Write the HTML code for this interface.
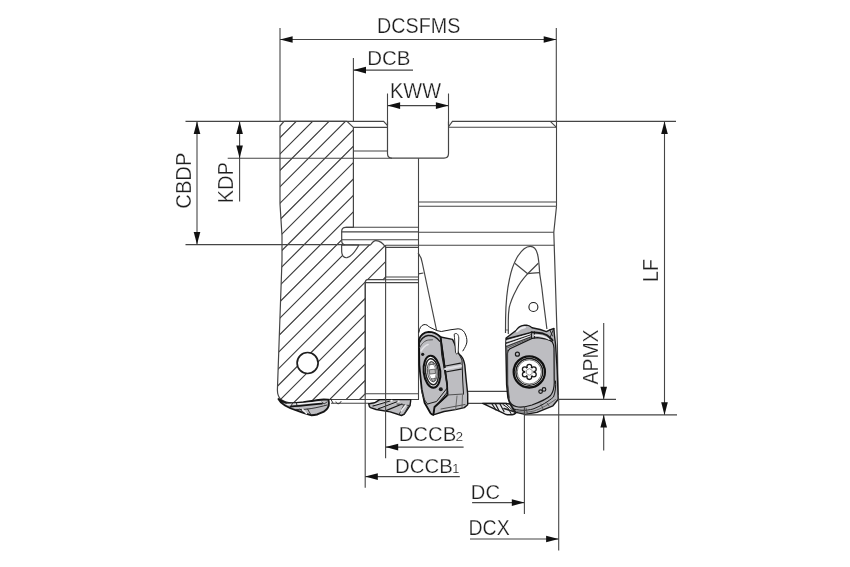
<!DOCTYPE html>
<html><head><meta charset="utf-8"><style>
html,body{margin:0;padding:0;background:#fff;}
svg{display:block;will-change:transform;}
text{font-family:"Liberation Sans",sans-serif;fill:#1e1e1e;stroke:#fff;stroke-width:0.25px;}
</style></head><body>
<svg width="850" height="567" viewBox="0 0 850 567">
<rect width="850" height="567" fill="#fff"/>
<clipPath id="hc"><path d="M280,126 L284,121.4 L347,121.4 L353.4,127.4 L353.4,227.3 L345.7,227.3 Q341.7,227.3 341.7,231.3 L341.7,240.8 Q341.7,244.8 345.7,244.8 L370.7,244.8 C372.5,242 374,240.6 375.9,240.6 C379,240.6 383,243 385.6,247.4 L385.6,277 L383.2,279.7 L367.6,279.7 Q365.3,279.7 365.3,282.6 L365.3,393.8 L359.5,399.5 L329.3,399.5 L324.4,399.5 C318,400 312,401.3 311.7,401.3 C305,402.5 297,403.6 292.6,403.4 C287,402.5 283,401 280.6,399.2 C278.5,397 277.4,394 277.4,390 L282,260 L282,236 L280,204 Z"/></clipPath>
<path d="M270,82.0 L400,-48.0 M270,98.4 L400,-31.6 M270,114.8 L400,-15.2 M270,131.2 L400,1.2 M270,147.6 L400,17.6 M270,164.0 L400,34.0 M270,180.4 L400,50.4 M270,196.8 L400,66.8 M270,213.2 L400,83.2 M270,229.6 L400,99.6 M270,246.0 L400,116.0 M270,262.4 L400,132.4 M270,278.8 L400,148.8 M270,295.2 L400,165.2 M270,311.6 L400,181.6 M270,328.0 L400,198.0 M270,344.4 L400,214.4 M270,360.8 L400,230.8 M270,377.2 L400,247.2 M270,393.6 L400,263.6 M270,410.0 L400,280.0 M270,426.4 L400,296.4 M270,442.8 L400,312.8 M270,459.2 L400,329.2 M270,475.6 L400,345.6 M270,492.0 L400,362.0 M270,508.4 L400,378.4 M270,524.8 L400,394.8 M270,541.2 L400,411.2 M270,557.6 L400,427.6" stroke="#3a3a3a" stroke-width="1.15" clip-path="url(#hc)" fill="none"/>
<path d="M280,126 L284,121.4 L347,121.4 L353.4,127.4 L353.4,227.3 L345.7,227.3 Q341.7,227.3 341.7,231.3 L341.7,240.8 Q341.7,244.8 345.7,244.8 L370.7,244.8 C372.5,242 374,240.6 375.9,240.6 C379,240.6 383,243 385.6,247.4 L385.6,277 L383.2,279.7 L367.6,279.7 Q365.3,279.7 365.3,282.6 L365.3,393.8 L359.5,399.5 L329.3,399.5 L324.4,399.5 C318,400 312,401.3 311.7,401.3 C305,402.5 297,403.6 292.6,403.4 C287,402.5 283,401 280.6,399.2 C278.5,397 277.4,394 277.4,390 L282,260 L282,236 L280,204 Z" fill="none" stroke="#454545" stroke-width="1.2" stroke-linejoin="round" />
<path d="M341.6,244.8 L341.7,252 C342,256 344,258 347,257.7 C351,257 356,250 358.8,245.2 Z" fill="#fff" stroke="#454545" stroke-width="1.2" stroke-linejoin="round" />
<circle cx="307.6" cy="363" r="10.5" fill="#fff" stroke="#1e1e1e" stroke-width="1.7"/>
<line x1="353.4" y1="127.4" x2="387.5" y2="127.4" stroke="#454545" stroke-width="1.1"/>
<line x1="353.4" y1="151" x2="387.5" y2="151" stroke="#454545" stroke-width="1.1"/>
<line x1="383.7" y1="121.4" x2="387.5" y2="125.6" stroke="#454545" stroke-width="1.1"/>
<path d="M387.5,121.4 L387.5,153.6 Q387.5,158.2 392,158.2 L444,158.2 Q448.5,158.2 448.5,153.6 L448.5,121.4" fill="none" stroke="#454545" stroke-width="1.2" stroke-linejoin="round" />
<line x1="448.5" y1="126.8" x2="452.4" y2="121.4" stroke="#454545" stroke-width="1.1"/>
<line x1="448.5" y1="127.3" x2="556.5" y2="127.3" stroke="#454545" stroke-width="1.1"/>
<line x1="550.3" y1="121.4" x2="556.5" y2="127.3" stroke="#454545" stroke-width="1.1"/>
<line x1="556.5" y1="121.4" x2="556.5" y2="206.2" stroke="#454545" stroke-width="1.1"/>
<line x1="418.5" y1="158.2" x2="418.5" y2="399.6" stroke="#454545" stroke-width="1.1"/>
<line x1="418" y1="202" x2="556.5" y2="202" stroke="#454545" stroke-width="1.1"/>
<line x1="418" y1="206.2" x2="556.5" y2="206.2" stroke="#454545" stroke-width="1.1"/>
<path d="M556.5,206.2 L553.8,232.3 L557.4,345 L558,395" fill="none" stroke="#454545" stroke-width="1.2" stroke-linejoin="round" />
<line x1="418" y1="232.3" x2="553.8" y2="232.3" stroke="#454545" stroke-width="1.1"/>
<line x1="385.6" y1="245.2" x2="554.3" y2="245.2" stroke="#454545" stroke-width="1.1"/>
<line x1="345.7" y1="227.3" x2="418" y2="227.3" stroke="#454545" stroke-width="1.1"/>
<line x1="341.7" y1="231.9" x2="418" y2="231.9" stroke="#454545" stroke-width="1.1"/>
<line x1="341.7" y1="239.8" x2="418" y2="239.8" stroke="#454545" stroke-width="1.1"/>
<line x1="385.6" y1="247.4" x2="418" y2="247.4" stroke="#454545" stroke-width="1.1"/>
<line x1="385.6" y1="277" x2="418" y2="277" stroke="#454545" stroke-width="1.1"/>
<line x1="383.2" y1="279.7" x2="418" y2="279.7" stroke="#454545" stroke-width="1.1"/>
<line x1="365.3" y1="282.6" x2="418" y2="282.6" stroke="#454545" stroke-width="1.1"/>
<line x1="365.3" y1="393.8" x2="419" y2="393.8" stroke="#454545" stroke-width="1.1"/>
<line x1="329.3" y1="399.5" x2="419" y2="399.5" stroke="#454545" stroke-width="1.1"/>
<line x1="331" y1="403.2" x2="369" y2="403.2" stroke="#454545" stroke-width="1.1"/>
<line x1="467" y1="391.4" x2="507" y2="391.4" stroke="#454545" stroke-width="1.1"/>
<line x1="467" y1="403.4" x2="507" y2="403.4" stroke="#454545" stroke-width="1.1"/>
<path d="M418,253.2 C420.5,256 422,259.5 422.3,263 L436.5,330" fill="none" stroke="#454545" stroke-width="1.2" stroke-linejoin="round" />
<path d="M418.5,273.8 L423.4,273" fill="none" stroke="#454545" stroke-width="1.2" stroke-linejoin="round" />
<path d="M505.5,333 L505.6,318 C505.8,305 507,290 509.5,279 C511,271 514,263 517,257.5 C521,251 525,246.4 530.2,246.4 C534,246.4 536.5,250 537.5,254 C538.6,258 539.2,265 539.7,273.7 L541.8,287.5 L543.4,301.3 L546.9,329" fill="none" stroke="#454545" stroke-width="1.2" stroke-linejoin="round" />
<path d="M514.8,263.2 L527.7,273.7 L538.3,263.2" fill="none" stroke="#454545" stroke-width="1.2" stroke-linejoin="round" />
<path d="M527.7,273.7 C531,273.3 535,273 539.7,272.7" fill="none" stroke="#454545" stroke-width="1.2" stroke-linejoin="round" />
<path d="M527.7,273.7 C522,280 518.5,285 516.2,290 C513,296 510.5,302 509.2,307.6 C508.5,312 508.3,317 508.3,321 L508.3,334" fill="none" stroke="#454545" stroke-width="1.2" stroke-linejoin="round" />
<path d="M505.5,330 L508.3,330" fill="none" stroke="#454545" stroke-width="0.8" stroke-linejoin="round" />
<circle cx="533.4" cy="307" r="4.5" fill="none" stroke="#1e1e1e" stroke-width="1.1"/>
<path d="M437,333.5 L441.3,331.5 L451,329.7 L458.1,328.8 C461,329 463,330 464.5,332.5 C466.5,336 467,339 466.9,342 C466.5,345 465,347.5 462.9,350.9 L459,354 L452.5,339.4 L440.5,337 Z" fill="#fff" stroke="#1a1a1a" stroke-width="0" stroke-linejoin="round" stroke-linecap="round" stroke="none"/>
<path d="M418.9,332.3 C419.5,328 421,325.3 424,324.6 C426.5,324.3 428,325.5 429.4,327.1 L436.9,330.6 L441.3,331.5 L451,329.7 L458.1,328.8 C461,329 463,330 464.5,332.5 C466.5,336 467,339 466.9,342 C466.5,345 465,347.5 462.9,350.9" fill="none" stroke="#1a1a1a" stroke-width="1.0" stroke-linejoin="round" stroke-linecap="round" />
<path d="M440.5,337 L452.5,339.4 C455,344 457,350 459,354 C462,356 464,360 464.8,365 L466.2,380 L467.7,394 L467.7,404.7 L464.3,407.6 L455.6,409.6 L444,411.5 L433.3,414.9 L434.5,407 L447.5,395 L447,384 Z" fill="#bdbdc1" stroke="#151515" stroke-width="1.4" stroke-linejoin="round" stroke-linecap="round" />
<path d="M459,354 L462,360 L462.7,380 L463.5,394" fill="none" stroke="#1a1a1a" stroke-width="1.0" stroke-linejoin="round" stroke-linecap="round" />
<path d="M454.5,334 C456.5,332.5 458.5,334 458.8,338 L458.2,352 C457.8,354.5 455.8,354.5 455.5,352 L454.5,338 Z" fill="#fff" stroke="#1a1a1a" stroke-width="0.9" stroke-linejoin="round" stroke-linecap="round" />
<path d="M419,339.5 C420.5,335 424,332.3 428.5,331.8 C433,331.8 438,334.5 440.5,337 L447,384 L447.5,395 L434.5,407 L433.3,414.9 C431.5,414.5 430.4,413 430.4,413 L424.6,402.8 L421.7,389.2 L419.3,365 Z" fill="#bdbdc1" stroke="#111" stroke-width="1.8" stroke-linejoin="round" stroke-linecap="round" />
<path d="M419.3,342.9 C421.5,338 424.5,336 428,335.5 C432,335.3 436,336.5 439.6,341.2" fill="none" stroke="#1a1a1a" stroke-width="1.3" stroke-linejoin="round" stroke-linecap="round" />
<path d="M419.8,347.5 C422,343 425,340.5 428.5,340 L432.5,339.8" fill="none" stroke="#555" stroke-width="1.0" stroke-linejoin="round" stroke-linecap="round" />
<path d="M421,351 C423,347.5 425,345.5 428,344.5" fill="none" stroke="#e2e2e6" stroke-width="1.6" stroke-linejoin="round" stroke-linecap="round" />
<path d="M440.5,337 L441.8,355 L446.3,380 L447,384" fill="none" stroke="#1a1a1a" stroke-width="1.2" stroke-linejoin="round" stroke-linecap="round" />
<path d="M444.2,366.2 L460.5,363.1" fill="none" stroke="#1a1a1a" stroke-width="1.1" stroke-linejoin="round" stroke-linecap="round" />
<path d="M445.5,372 L461.3,369.1" fill="none" stroke="#1a1a1a" stroke-width="1.1" stroke-linejoin="round" stroke-linecap="round" />
<path d="M445,369 L461,366" fill="none" stroke="#e0e0e4" stroke-width="2.0" stroke-linejoin="round" stroke-linecap="round" />
<path d="M447.2,388 L436.5,401.5 L427.5,404 M447.4,392 L437.5,404" fill="none" stroke="#1a1a1a" stroke-width="1.0" stroke-linejoin="round" stroke-linecap="round" />
<path d="M447.5,395 L463.5,394 M441,409 L465,404.5" fill="none" stroke="#444" stroke-width="0.9" stroke-linejoin="round" stroke-linecap="round" />
<path d="M455.6,409.6 L457,396 M462,408 L462.5,395" fill="none" stroke="#555" stroke-width="0.8" stroke-linejoin="round" stroke-linecap="round" />
<path d="M421.5,389 C422,395 424,400 427.5,404" fill="none" stroke="#333" stroke-width="1.0" stroke-linejoin="round" stroke-linecap="round" />
<g transform="rotate(-6.5 432 371.7)"><ellipse cx="432" cy="371.7" rx="8.3" ry="16.0" fill="#fff" stroke="#111" stroke-width="2.1"/><ellipse cx="432" cy="371.7" rx="6.5" ry="13.1" fill="none" stroke="#222" stroke-width="1.5"/><ellipse cx="432.3" cy="371.7" rx="4.9" ry="10.2" fill="#e6e6ea" stroke="#444" stroke-width="0.9"/><ellipse cx="432.4" cy="371.7" rx="3.6" ry="8" fill="#fff" stroke="#666" stroke-width="0.7"/><path d="M429.8,364.5 L432.4,361.5 L435,364.5 Z M429.5,369.5 L435.3,369.5 L435.3,373.8 L429.5,373.8 Z M429.8,378.8 L432.4,381.8 L435,378.8 Z" fill="#bbb" stroke="#444" stroke-width="0.7"/></g>
<circle cx="422.7" cy="354.3" r="1.6" fill="#1a1a1a"/>
<circle cx="440.8" cy="389.3" r="2" fill="#1a1a1a"/>
<path d="M506.1,338 L516.3,330.2 C517.5,328.5 518.2,327.6 519,327.1 C520.5,326 522.5,325.4 524.5,325.2 L526.6,325.1 C528.3,325.4 529.8,326 530.7,326.8 L532,327.8 L540.2,329.5 L546.4,331.6 L549.8,329.8 L553.9,328.5 L554.5,335.6 L555.6,345 L557.2,370 L558.2,399.2 L552.9,405.8 L537,412.4 L525.1,414.4 L515.9,412.4 L509.9,403.8 L507.9,397.9 L506.6,384.7 L505.8,345 Z" fill="#b4b4b8" stroke="#1a1a1a" stroke-width="1.4" stroke-linejoin="round" stroke-linecap="round" />
<path d="M507.2,354 C507.5,352 508,350 510,348.8 L532,338.4 L537.5,337.7 L546.4,339.1 C549,339.7 551,340.5 552.4,342.2 C553.5,344 553.9,346 554,348 L554.2,380 C554.6,386 553.8,391 550.5,395.5 C547,399 540,402 532,405 C526,407 521,407.8 516,406.5 C512,405.5 510,403 509,400 L507.2,384 Z" fill="#bdbdc1" stroke="#1a1a1a" stroke-width="1.2" stroke-linejoin="round" stroke-linecap="round" />
<path d="M506.60,339.04 L531.30,332.51" fill="none" stroke="#1a1a1a" stroke-width="1.7" stroke-linejoin="round" stroke-linecap="round" />
<path d="M506.60,341.20 L531.30,333.75" fill="none" stroke="#f0f0f2" stroke-width="1.3" stroke-linejoin="round" stroke-linecap="round" />
<path d="M506.60,343.04 L531.30,334.80" fill="none" stroke="#222" stroke-width="1.1" stroke-linejoin="round" stroke-linecap="round" />
<path d="M506.60,344.76 L531.30,335.80" fill="none" stroke="#eaeaec" stroke-width="1.2" stroke-linejoin="round" stroke-linecap="round" />
<path d="M506.60,346.49 L531.30,336.79" fill="none" stroke="#333" stroke-width="1.1" stroke-linejoin="round" stroke-linecap="round" />
<path d="M506.60,348.22 L531.30,337.78" fill="none" stroke="#555" stroke-width="0.9" stroke-linejoin="round" stroke-linecap="round" />
<path d="M517,331.5 C519,329 522,327.6 525,327.2" fill="none" stroke="#ededf0" stroke-width="2.0" stroke-linejoin="round" stroke-linecap="round" />
<path d="M531.3,332.2 L531.6,338.4 M534.5,331.8 L534.6,338" fill="none" stroke="#1a1a1a" stroke-width="1.0" stroke-linejoin="round" stroke-linecap="round" />
<path d="M534.6,335.2 C540,335.3 545,336.5 549,339.2" fill="none" stroke="#f0f0f2" stroke-width="1.5" stroke-linejoin="round" stroke-linecap="round" />
<path d="M531.6,332.2 C536,332.4 540,333 543,333.6 C546,334.5 548.5,336 549.8,337.7 C551,338.8 552,339.6 552.5,340.4" fill="none" stroke="#1a1a1a" stroke-width="2.0" stroke-linejoin="round" stroke-linecap="round" />
<path d="M549.8,329.8 L552.5,336 M553.9,328.5 L550,337.5" fill="none" stroke="#1a1a1a" stroke-width="0.9" stroke-linejoin="round" stroke-linecap="round" />
<path d="M507.6,350 L507.8,384 L509.2,398" fill="none" stroke="#444" stroke-width="0.9" stroke-linejoin="round" stroke-linecap="round" />
<path d="M512,408.5 C518,410.5 526,411 533,409 C541,406 549,401 553.5,397 C555.5,392 556,386 555.5,381" fill="none" stroke="#1a1a1a" stroke-width="1.0" stroke-linejoin="round" stroke-linecap="round" />
<path d="M514,410.6 C520,412.5 527,412.8 534,411 C542,408.5 550,403.5 555.5,399.5" fill="none" stroke="#555" stroke-width="0.8" stroke-linejoin="round" stroke-linecap="round" />
<path d="M526,408 L527.5,414 M547,403 L549,405.8 M541,404 L543,409" fill="none" stroke="#444" stroke-width="0.8" stroke-linejoin="round" stroke-linecap="round" />
<circle cx="529.3" cy="371.9" r="15.6" fill="#fff" stroke="#111" stroke-width="2.3"/>
<circle cx="529.3" cy="371.9" r="13.4" fill="none" stroke="#1a1a1a" stroke-width="1.4"/>
<circle cx="529.3" cy="371.9" r="12.1" fill="none" stroke="#555" stroke-width="0.8"/>
<circle cx="529.30" cy="366.70" r="2.4" fill="#fff" stroke="#1a1a1a" stroke-width="1.3"/><circle cx="524.80" cy="369.30" r="2.4" fill="#fff" stroke="#1a1a1a" stroke-width="1.3"/><circle cx="524.80" cy="374.50" r="2.4" fill="#fff" stroke="#1a1a1a" stroke-width="1.3"/><circle cx="529.30" cy="377.10" r="2.4" fill="#fff" stroke="#1a1a1a" stroke-width="1.3"/><circle cx="533.80" cy="374.50" r="2.4" fill="#fff" stroke="#1a1a1a" stroke-width="1.3"/><circle cx="533.80" cy="369.30" r="2.4" fill="#fff" stroke="#1a1a1a" stroke-width="1.3"/>
<circle cx="529.3" cy="371.9" r="4.1" fill="#fff" stroke="none"/>
<polygon points="532.16,370.25 529.30,368.60 526.44,370.25 526.44,373.55 529.30,375.20 532.16,373.55" fill="#fff" stroke="#666" stroke-width="0.7"/>
<circle cx="517.4" cy="354.2" r="2" fill="none" stroke="#1a1a1a" stroke-width="1.2"/>
<circle cx="540.6" cy="391.6" r="1.8" fill="none" stroke="#1a1a1a" stroke-width="1.2"/>
<circle cx="544" cy="389.4" r="1.8" fill="none" stroke="#1a1a1a" stroke-width="1.2"/>
<path d="M278.5,399 C280,402 282,403.8 285,405.5 C289.6,408.3 294,409.8 298.5,411.1 C301,412 304,413 306.7,413.8 C308.5,414.5 310,415.2 311.5,415.2 C314,415.2 317,414.5 317,414.5 C320,413.5 322,412.5 323.8,411.7 C326,410 327.5,408.5 327.9,407.6 C328.7,406 329,404.5 328.9,403 L328.5,399.6 L323.8,399.5 C318,400 313.5,400.8 313.5,400.8 C308,401.5 303.3,402.2 303.3,402.2 C299,402.7 295,403.2 293,403.2 C290,403.2 288,403.1 286.2,402.9 C284,402.3 282.5,401.5 281.5,400.8 Z" fill="#bdbdc1" stroke="#151515" stroke-width="1.9" stroke-linejoin="round" stroke-linecap="round" />
<path d="M287,404.3 C297,404.3 310,402.8 322,401.8" fill="none" stroke="#f2f2f4" stroke-width="1.3" stroke-linejoin="round" stroke-linecap="round" />
<path d="M290.5,406.6 C300,406 312,404.6 322,403.6" fill="none" stroke="#151515" stroke-width="1.7" stroke-linejoin="round" stroke-linecap="round" />
<path d="M296,409.5 C306,410 316,408 327,405" fill="none" stroke="#333" stroke-width="1.0" stroke-linejoin="round" stroke-linecap="round" />
<path d="M302.5,409.3 L306.5,413.4" fill="none" stroke="#f2f2f4" stroke-width="1.4" stroke-linejoin="round" stroke-linecap="round" />
<path d="M300,409 L303.5,413 M307.5,409 L310.5,414" fill="none" stroke="#222" stroke-width="0.9" stroke-linejoin="round" stroke-linecap="round" />
<path d="M292.5,403.3 L290.8,406.5 M296.5,403 L297,406" fill="none" stroke="#222" stroke-width="0.9" stroke-linejoin="round" stroke-linecap="round" />
<path d="M322,401.8 L324,404 L327,402" fill="none" stroke="#333" stroke-width="0.9" stroke-linejoin="round" stroke-linecap="round" />
<path d="M368.7,403.8 C369,406 369.8,407.2 370.5,407.7 L376.1,409.5 L390.2,411.9 L401.5,415.5 L404.3,414.1 L410,405.6 L410.7,400.6 L410.7,399.6 L379.6,399.6 L374.7,402.8 Z" fill="#bdbdc1" stroke="#151515" stroke-width="1.4" stroke-linejoin="round" stroke-linecap="round" />
<path d="M375,404.5 L392,400.5 M381,407.5 L399,401.3" fill="none" stroke="#f0f0f2" stroke-width="1.5" stroke-linejoin="round" stroke-linecap="round" />
<path d="M373,406 L390,401 M378.5,408.8 L397,401.8 M386,410.6 L402,404" fill="none" stroke="#151515" stroke-width="1.2" stroke-linejoin="round" stroke-linecap="round" />
<path d="M397,404 L410,405.6 M399,414.5 L404,405 M404,414 L409,405" fill="none" stroke="#333" stroke-width="0.9" stroke-linejoin="round" stroke-linecap="round" />
<path d="M401,411 L406,405" fill="none" stroke="#f0f0f2" stroke-width="1.3" stroke-linejoin="round" stroke-linecap="round" />
<path d="M331,399.5 L333,403 M336,402 C337,404.5 339.5,404.5 341,401.5" fill="none" stroke="#1a1a1a" stroke-width="0.9" stroke-linejoin="round" stroke-linecap="round" />
<path d="M482.7,403.4 L503.3,413.1 C505,414.2 506.5,414.8 507.4,414.8 L512.1,414.8 C513.7,414.5 514.8,413.8 515.6,413.1 L510,404 L505.6,403.4 Z" fill="#ececee" stroke="#1a1a1a" stroke-width="1.5" stroke-linejoin="round" stroke-linecap="round" />
<path d="M492,404 L496,410 M495.5,404 L499,410.8 M500,404 L504,411.5" fill="none" stroke="#1a1a1a" stroke-width="1.2" stroke-linejoin="round" stroke-linecap="round" />
<path d="M503,404.5 L508,408 L511.5,414.5 M506,404 L513,410.5" fill="none" stroke="#1a1a1a" stroke-width="1.0" stroke-linejoin="round" stroke-linecap="round" />
<path d="M504,408.5 L515,412" fill="none" stroke="#222" stroke-width="1.6" stroke-linejoin="round" stroke-linecap="round" />
<line x1="280" y1="28" x2="280" y2="121.4" stroke="#454545" stroke-width="1.1"/>
<line x1="556.3" y1="28" x2="556.3" y2="121.4" stroke="#454545" stroke-width="1.1"/>
<line x1="280" y1="39.5" x2="556.3" y2="39.5" stroke="#454545" stroke-width="1.1"/>
<polygon points="280.00,39.50 292.60,36.20 292.60,42.80" fill="#111"/>
<polygon points="556.30,39.50 543.70,36.20 543.70,42.80" fill="#111"/>
<text x="377.07" y="33.21" font-size="21.69"><tspan textLength="83.24" lengthAdjust="spacingAndGlyphs">DCSFMS</tspan></text>
<line x1="353.4" y1="58" x2="353.4" y2="121.4" stroke="#454545" stroke-width="1.1"/>
<line x1="353.4" y1="70.1" x2="413" y2="70.1" stroke="#454545" stroke-width="1.1"/>
<polygon points="353.40,70.10 366.00,66.80 366.00,73.40" fill="#111"/>
<text x="367.21" y="64.51" font-size="21.11"><tspan textLength="43.28" lengthAdjust="spacingAndGlyphs">DCB</tspan></text>
<line x1="387.5" y1="93.5" x2="387.5" y2="125" stroke="#454545" stroke-width="1.1"/>
<line x1="448.5" y1="93.5" x2="448.5" y2="125" stroke="#454545" stroke-width="1.1"/>
<line x1="387.5" y1="105.6" x2="448.5" y2="105.6" stroke="#454545" stroke-width="1.1"/>
<polygon points="387.50,105.60 400.10,102.30 400.10,108.90" fill="#111"/>
<polygon points="448.50,105.60 435.90,102.30 435.90,108.90" fill="#111"/>
<text x="390.05" y="97.71" font-size="21.40"><tspan textLength="51.03" lengthAdjust="spacingAndGlyphs">KWW</tspan></text>
<line x1="185.5" y1="121.4" x2="384" y2="121.4" stroke="#454545" stroke-width="1.1"/>
<line x1="452" y1="121.4" x2="676" y2="121.4" stroke="#454545" stroke-width="1.1"/>
<line x1="185.5" y1="244.6" x2="345" y2="244.6" stroke="#454545" stroke-width="1.1"/>
<line x1="197" y1="121.4" x2="197" y2="244.6" stroke="#454545" stroke-width="1.1"/>
<polygon points="197.00,121.40 193.70,134.00 200.30,134.00" fill="#111"/>
<polygon points="197.00,244.60 193.70,232.00 200.30,232.00" fill="#111"/>
<text x="190.91" y="208.63" font-size="21.83" transform="rotate(-90 190.91 208.63)" textLength="56.01" lengthAdjust="spacingAndGlyphs">CBDP</text>
<line x1="227.7" y1="158.2" x2="392" y2="158.2" stroke="#454545" stroke-width="1.1"/>
<line x1="239.6" y1="121.4" x2="239.6" y2="201.6" stroke="#454545" stroke-width="1.1"/>
<polygon points="239.60,121.40 236.30,134.00 242.90,134.00" fill="#111"/>
<polygon points="239.60,158.20 236.30,145.60 242.90,145.60" fill="#111"/>
<text x="233.11" y="203.35" font-size="21.25" transform="rotate(-90 233.11 203.35)" textLength="41.22" lengthAdjust="spacingAndGlyphs">KDP</text>
<line x1="664.5" y1="121.4" x2="664.5" y2="414.9" stroke="#454545" stroke-width="1.1"/>
<polygon points="664.50,121.40 661.20,134.00 667.80,134.00" fill="#111"/>
<polygon points="664.50,414.90 661.20,402.30 667.80,402.30" fill="#111"/>
<line x1="524.5" y1="414.9" x2="677" y2="414.9" stroke="#454545" stroke-width="1.1"/>
<text x="658.11" y="281.92" font-size="21.54" transform="rotate(-90 658.11 281.92)" textLength="22.92" lengthAdjust="spacingAndGlyphs">LF</text>
<line x1="603.7" y1="323" x2="603.7" y2="399.4" stroke="#454545" stroke-width="1.1"/>
<polygon points="603.70,399.40 600.40,386.80 607.00,386.80" fill="#111"/>
<line x1="557.6" y1="399.4" x2="616" y2="399.4" stroke="#454545" stroke-width="1.1"/>
<line x1="603.7" y1="414.9" x2="603.7" y2="450.4" stroke="#454545" stroke-width="1.1"/>
<polygon points="603.70,414.90 600.40,427.50 607.00,427.50" fill="#111"/>
<text x="598.31" y="384.45" font-size="21.69" transform="rotate(-90 598.31 384.45)" textLength="54.97" lengthAdjust="spacingAndGlyphs">APMX</text>
<line x1="385.6" y1="245" x2="385.6" y2="458.3" stroke="#454545" stroke-width="1.1"/>
<line x1="385.6" y1="447.1" x2="463.6" y2="447.1" stroke="#454545" stroke-width="1.1"/>
<polygon points="385.60,447.10 398.20,443.80 398.20,450.40" fill="#111"/>
<text x="398.73" y="441.01" font-size="20.96"><tspan textLength="57.45" lengthAdjust="spacingAndGlyphs">DCCB</tspan></text>
<text x="455.52" y="441.20" font-size="13.61" style="stroke-width:0.2px">2</text>
<line x1="365.2" y1="282" x2="365.2" y2="487.8" stroke="#454545" stroke-width="1.1"/>
<line x1="365.2" y1="476.6" x2="459.8" y2="476.6" stroke="#454545" stroke-width="1.1"/>
<polygon points="365.20,476.60 377.80,473.30 377.80,479.90" fill="#111"/>
<text x="395.02" y="472.81" font-size="20.81"><tspan textLength="57.77" lengthAdjust="spacingAndGlyphs">DCCB</tspan></text>
<text x="452.13" y="472.80" font-size="12.79" style="stroke-width:0.2px">1</text>
<line x1="524.4" y1="406" x2="524.4" y2="513.9" stroke="#454545" stroke-width="1.1"/>
<line x1="472.1" y1="502.6" x2="524.4" y2="502.6" stroke="#454545" stroke-width="1.1"/>
<polygon points="524.40,502.60 511.80,499.30 511.80,505.90" fill="#111"/>
<text x="470.83" y="498.81" font-size="21.11"><tspan textLength="29.14" lengthAdjust="spacingAndGlyphs">DC</tspan></text>
<line x1="558.7" y1="399.4" x2="558.7" y2="550.4" stroke="#454545" stroke-width="1.1"/>
<line x1="470" y1="539.0" x2="558.7" y2="539.0" stroke="#454545" stroke-width="1.1"/>
<polygon points="558.70,539.00 546.10,535.70 546.10,542.30" fill="#111"/>
<text x="468.49" y="534.81" font-size="21.25"><tspan textLength="41.23" lengthAdjust="spacingAndGlyphs">DCX</tspan></text>
</svg>
</body></html>
